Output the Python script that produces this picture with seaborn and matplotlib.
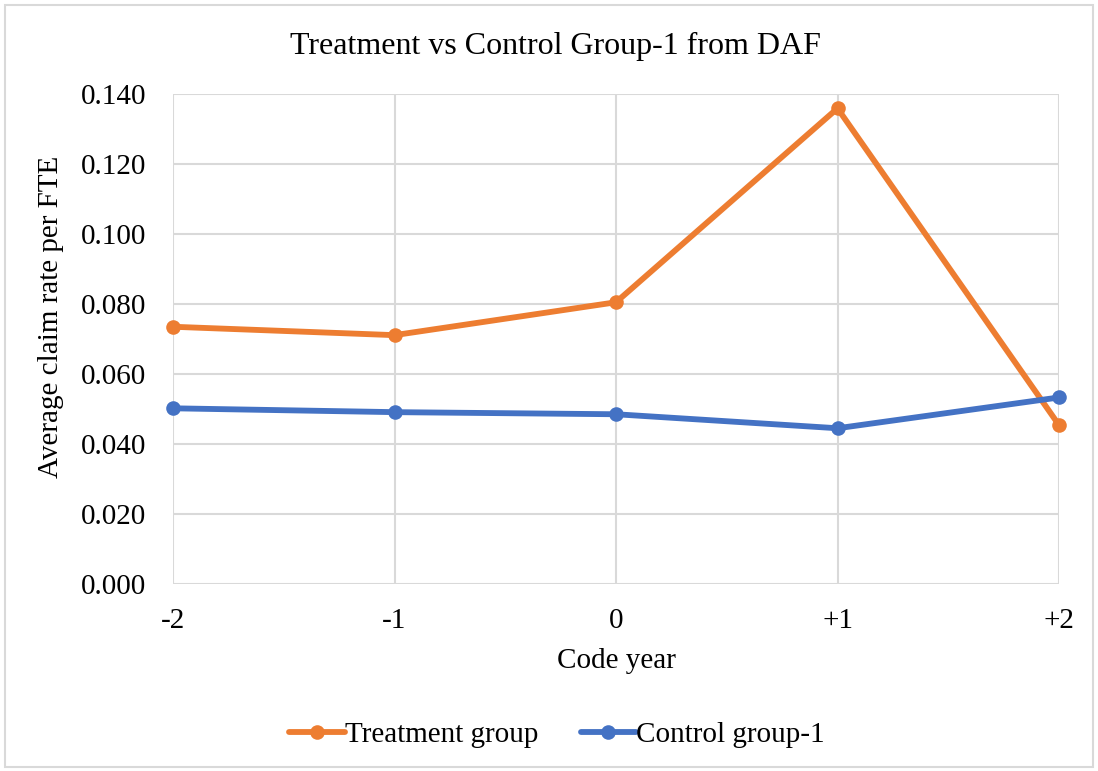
import matplotlib
matplotlib.use("Agg")
import matplotlib.pyplot as plt
import seaborn as sns
import pandas as pd
from matplotlib.patches import Rectangle

years = ["-2", "-1", "0", "+1", "+2"]
treatment = [0.0735, 0.0711, 0.0805, 0.1359, 0.0454]
control = [0.0502, 0.0491, 0.0485, 0.0445, 0.0533]
series_names = ["Treatment group", "Control group-1"]
colors = ["#ED7D31", "#4472C4"]

df = pd.DataFrame({
    "pos": list(range(len(years))) * 2,
    "year": years * 2,
    "value": treatment + control,
    "series": [series_names[0]] * len(years) + [series_names[1]] * len(years),
})

sns.set_theme(style="white")
plt.rcParams["font.family"] = ["Liberation Serif", "DejaVu Serif"]
plt.rcParams["text.color"] = "black"

W, H = 1098, 771
fig = plt.figure(figsize=(W / 100, H / 100), dpi=100)
ax = fig.add_axes([173/W, 1-584/H, (1059-173)/W, (584-94)/H])

sns.lineplot(data=df, x="pos", y="value", hue="series", palette=colors,
             hue_order=series_names, marker="o", markersize=10.5,
             markeredgewidth=0, linewidth=4.2, ax=ax, legend=True)
for line in ax.lines:
    line.set_clip_on(False)

ax.set_xlim(0, len(years) - 1)
ax.set_ylim(0, 0.14)
ax.set_xticks(range(len(years)))
ax.set_xticklabels(years)
ax.set_yticks([i * 0.02 for i in range(8)])
ax.set_yticklabels([f"{i*0.02:.3f}" for i in range(8)])
ax.tick_params(axis="both", labelsize=21, length=0, labelcolor="black")
ax.tick_params(axis="y", pad=19.5)
ax.tick_params(axis="x", pad=17)
ax.grid(True, color="#d9d9d9", linewidth=1.5)
ax.set_axisbelow(True)
for s in ax.spines.values():
    s.set_visible(False)

ax.set_xlabel("Code year", fontsize=21, color="black", va="center")
ax.xaxis.set_label_coords(0.5, (584 - 661) / 490)
ax.set_ylabel("Average claim rate per FTE", fontsize=21, color="black", va="center")
ax.yaxis.set_label_coords((51 - 173) / 886, (584 - 317) / 490)

fig.text(555 / W, 1 - 46 / H, "Treatment vs Control Group-1 from DAF",
         fontsize=23, ha="center", va="center", color="black")

handles, labels = ax.get_legend_handles_labels()
ax.get_legend().remove()
fig.legend(handles, labels, loc="center", bbox_to_anchor=(557 / W, 1 - 735 / H),
           ncol=2, frameon=False, fontsize=21, handlelength=1.9,
           handletextpad=0.0, columnspacing=1.45, labelcolor="black")

fig.patches.append(Rectangle((5/W, 4/H), 1088/W, 762/H,
                             transform=fig.transFigure, fill=False,
                             edgecolor="#d9d9d9", linewidth=1.5))

fig.savefig("out.png", dpi=100, facecolor="white")
